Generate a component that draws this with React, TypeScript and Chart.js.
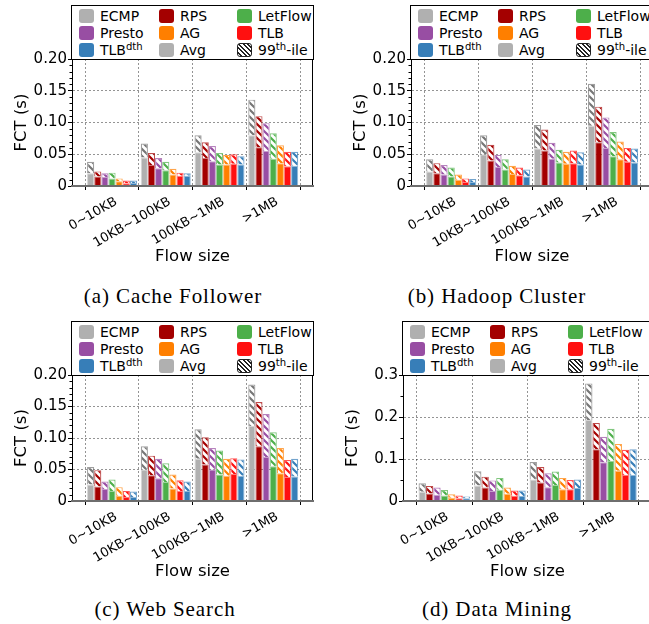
import { useEffect, useRef } from "react";
import { Chart, registerables } from "chart.js";

Chart.register(...registerables);

const SANS = "'DejaVu Sans', sans-serif";
const SERIF = "'Liberation Serif', serif";

Chart.defaults.font.family = SANS;
Chart.defaults.color = "#000";

// Flow-size buckets on the x axis
const sizeGroups = ["0~10KB", "10KB~100KB", "100KB~1MB", ">1MB"];

// Load-balancing schemes, in bar order inside each group
const schemes = ["ECMP", "RPS", "Presto", "LetFlow", "AG", "TLB", "TLBdth"];
const schemeColors = ["#b0b0b0", "#a40000", "#984ea3", "#4daf4a", "#ff7f00", "#ff1010", "#377eb8"];
const hatchColors = ["#767676", "#a40000", "#984ea3", "#4daf4a", "#ff7f00", "#ff1010", "#377eb8"];

// FCT in seconds; one row per scheme, one column per flow-size bucket
const cacheFollowerAvg = [
  [0.02, 0.045, 0.053, 0.08],
  [0.015, 0.033, 0.044, 0.061],
  [0.014, 0.028, 0.039, 0.055],
  [0.012, 0.025, 0.034, 0.043],
  [0.0075, 0.018, 0.034, 0.036],
  [0.0042, 0.016, 0.035, 0.031],
  [0.0047, 0.016, 0.034, 0.032],
];
const cacheFollowerP99 = [
  [0.038, 0.067, 0.08, 0.136],
  [0.023, 0.052, 0.069, 0.11],
  [0.02, 0.044, 0.063, 0.099],
  [0.021, 0.038, 0.052, 0.083],
  [0.012, 0.027, 0.049, 0.064],
  [0.0085, 0.021, 0.05, 0.054],
  [0.0085, 0.02, 0.047, 0.054],
];

const hadoopAvg = [
  [0.023, 0.05, 0.059, 0.095],
  [0.02, 0.04, 0.056, 0.069],
  [0.018, 0.03, 0.043, 0.06],
  [0.015, 0.026, 0.037, 0.047],
  [0.01, 0.019, 0.035, 0.042],
  [0.0063, 0.017, 0.036, 0.038],
  [0.0063, 0.015, 0.034, 0.037],
];
const hadoopP99 = [
  [0.042, 0.08, 0.096, 0.161],
  [0.036, 0.065, 0.089, 0.125],
  [0.033, 0.049, 0.068, 0.108],
  [0.029, 0.042, 0.057, 0.085],
  [0.018, 0.032, 0.054, 0.07],
  [0.012, 0.029, 0.056, 0.06],
  [0.011, 0.026, 0.053, 0.059],
];

const webSearchAvg = [
  [0.026, 0.05, 0.067, 0.119],
  [0.023, 0.041, 0.058, 0.087],
  [0.019, 0.036, 0.05, 0.07],
  [0.016, 0.03, 0.042, 0.055],
  [0.0085, 0.02, 0.04, 0.044],
  [0.0063, 0.016, 0.043, 0.038],
  [0.0063, 0.016, 0.04, 0.039],
];
const webSearchP99 = [
  [0.054, 0.087, 0.114, 0.185],
  [0.049, 0.072, 0.101, 0.157],
  [0.031, 0.067, 0.084, 0.138],
  [0.034, 0.06, 0.08, 0.109],
  [0.022, 0.042, 0.067, 0.084],
  [0.016, 0.033, 0.068, 0.065],
  [0.015, 0.031, 0.066, 0.067],
];

const dataMiningAvg = [
  [0.022, 0.037, 0.051, 0.193],
  [0.018, 0.032, 0.044, 0.123],
  [0.015, 0.024, 0.033, 0.092],
  [0.013, 0.027, 0.038, 0.095],
  [0.008, 0.017, 0.028, 0.072],
  [0.0063, 0.0126, 0.028, 0.062],
  [0.0063, 0.012, 0.031, 0.062],
];
const dataMiningP99 = [
  [0.042, 0.071, 0.093, 0.28],
  [0.036, 0.058, 0.081, 0.186],
  [0.032, 0.049, 0.066, 0.153],
  [0.026, 0.055, 0.07, 0.172],
  [0.016, 0.032, 0.055, 0.136],
  [0.013, 0.025, 0.05, 0.122],
  [0.011, 0.025, 0.051, 0.123],
];

const AXIS_W = 72;
const PAD_TOP = 10;
const PAD_RIGHT = 10;
const XAXIS_H = 90;

function withAlpha(hex: string, a: number): string {
  const n = parseInt(hex.slice(1), 16);
  return `rgba(${(n >> 16) & 255},${(n >> 8) & 255},${n & 255},${a})`;
}

function makeHatch(ctx: CanvasRenderingContext2D, color: string): CanvasPattern | string {
  const s = 7;
  const tile = document.createElement("canvas");
  tile.width = s;
  tile.height = s;
  const g = tile.getContext("2d");
  if (!g) return color;
  g.fillStyle = "#fff";
  g.fillRect(0, 0, s, s);
  g.strokeStyle = color;
  g.lineWidth = 2.2;
  g.beginPath();
  g.moveTo(-1, -1);
  g.lineTo(s + 1, s + 1);
  g.moveTo(s - 2, -2);
  g.lineTo(s + 2, 2);
  g.moveTo(-2, s - 2);
  g.lineTo(2, s + 2);
  g.stroke();
  return ctx.createPattern(tile, "repeat") ?? color;
}

// Closes the plot box on top/right and adds minor ticks on the y axis
const frameAndMinorTicks = {
  id: "frameAndMinorTicks",
  afterDatasetsDraw(chart: any, _args: any, opts: any) {
    const { ctx, chartArea } = chart;
    const { left, right, top, bottom } = chartArea;
    const y = chart.scales.y;
    ctx.save();
    ctx.strokeStyle = "#000";
    ctx.lineWidth = 1;
    ctx.beginPath();
    ctx.moveTo(left, Math.round(top) + 0.5);
    ctx.lineTo(right, Math.round(top) + 0.5);
    ctx.moveTo(Math.round(right) - 0.5, top);
    ctx.lineTo(Math.round(right) - 0.5, bottom);
    const step: number = opts.minor;
    const major: number = opts.major;
    for (let k = 1; k * step < y.max - 1e-9; k++) {
      const v = k * step;
      const r = v / major;
      if (Math.abs(r - Math.round(r)) < 1e-6) continue;
      const py = Math.round(y.getPixelForValue(v)) + 0.5;
      ctx.moveTo(left - 2.5, py);
      ctx.lineTo(left, py);
    }
    ctx.stroke();
    ctx.restore();
  },
};

type PanelProps = {
  left: number;
  top: number;
  width: number;
  height: number;
  avg: number[][];
  p99: number[][];
  yMax: number;
  yStep: number;
  yMinor: number;
  digits: number;
};

function BarPanel(p: PanelProps) {
  const ref = useRef<HTMLCanvasElement>(null);
  const cw = AXIS_W + p.width + PAD_RIGHT;
  const ch = PAD_TOP + p.height + XAXIS_H;

  useEffect(() => {
    const canvas = ref.current;
    if (!canvas) return;
    const ctx = canvas.getContext("2d");
    if (!ctx) return;

    const datasets: any[] = [];
    schemes.forEach((name, s) => {
      datasets.push({
        label: `${name} avg`,
        stack: name,
        data: p.avg[s].map((v, i) => ({ x: i + 0.5, y: v })),
        backgroundColor: schemeColors[s],
        borderColor: withAlpha(schemeColors[s], 0.55),
        borderWidth: 1,
        borderSkipped: "bottom",
      });
      datasets.push({
        label: `${name} 99th`,
        stack: name,
        data: p.p99[s].map((v, i) => ({ x: i + 0.5, y: [p.avg[s][i], v] })),
        backgroundColor: makeHatch(ctx, hatchColors[s]),
        borderColor: withAlpha(hatchColors[s], 0.7),
        borderWidth: 1.2,
        borderSkipped: "bottom",
      });
    });

    const gridColor = "rgba(0,0,0,0.42)";
    const chart = new Chart(canvas, {
      type: "bar",
      data: { datasets },
      plugins: [frameAndMinorTicks],
      options: {
        responsive: false,
        animation: false,
        events: [],
        layout: { padding: { top: PAD_TOP, right: PAD_RIGHT, left: 0, bottom: 0 } },
        datasets: { bar: { categoryPercentage: 0.93, barPercentage: 1 } },
        plugins: {
          legend: { display: false },
          tooltip: { enabled: false },
          frameAndMinorTicks: { minor: p.yMinor, major: p.yStep },
        } as any,
        scales: {
          x: {
            type: "linear",
            min: -0.245,
            max: 4.24,
            offset: false,
            afterBuildTicks: (s: any) => {
              s.ticks = [0, 1, 2, 3, 4].map((value) => ({ value }));
            },
            afterFit: (s: any) => {
              s.height = XAXIS_H;
            },
            ticks: {
              autoSkip: false,
              minRotation: 30,
              maxRotation: 30,
              labelOffset: 31,
              padding: 4,
              font: { size: 13 },
              color: "#000",
              callback: (v: any) => sizeGroups[Number(v)] ?? "",
            },
            grid: { offset: false, color: gridColor, lineWidth: 1, tickLength: 4, tickColor: "#000" },
            border: { color: "#6e6e6e", width: 2, dash: [2, 2], z: 1 },
            title: {
              display: true,
              text: "Flow size",
              color: "#000",
              font: { size: 16.5 },
              padding: { top: 0, bottom: 9 },
            },
          } as any,
          y: {
            min: 0,
            max: p.yMax,
            stacked: false,
            afterFit: (s: any) => {
              s.width = AXIS_W;
            },
            ticks: {
              stepSize: p.yStep,
              padding: 1,
              font: { size: 15 },
              color: "#000",
              callback: (v: any) => (Number(v) === 0 ? "0" : Number(v).toFixed(p.digits)),
            },
            grid: { color: gridColor, lineWidth: 1, tickLength: 4, tickColor: "#000" },
            border: { color: "#000", width: 1, dash: [2, 2] },
            title: {
              display: true,
              text: "FCT (s)",
              color: "#000",
              font: { size: 16.5 },
              padding: { top: 12, bottom: 0 },
            },
          } as any,
        },
      },
    });
    return () => chart.destroy();
  }, []);

  return (
    <canvas
      ref={ref}
      width={cw}
      height={ch}
      style={{ position: "absolute", left: p.left - AXIS_W, top: p.top - PAD_TOP, width: cw, height: ch }}
    />
  );
}

type LegendItem = { text: string; sup?: string; tail?: string; color?: string; hatch?: boolean };

const legendColumns: LegendItem[][] = [
  [
    { text: "ECMP", color: schemeColors[0] },
    { text: "Presto", color: schemeColors[2] },
    { text: "TLB", sup: "dth", color: schemeColors[6] },
  ],
  [
    { text: "RPS", color: schemeColors[1] },
    { text: "AG", color: schemeColors[4] },
    { text: "Avg", color: "#b0b0b0" },
  ],
  [
    { text: "LetFlow", color: schemeColors[3] },
    { text: "TLB", color: schemeColors[5] },
    { text: "99", sup: "th", tail: "-ile", hatch: true },
  ],
];

const swatchX = [7, 87, 165];
const labelX = [28, 108, 186];
const rowY = [10, 27, 44];

function LegendBox({ left, top, width, bottom }: { left: number; top: number; width: number; bottom: number }) {
  return (
    <div
      style={{
        position: "absolute",
        left,
        top,
        width,
        height: bottom - top + 1,
        boxSizing: "border-box",
        border: "1px solid #000",
        background: "#fff",
        fontFamily: SANS,
        fontSize: 14,
        color: "#000",
      }}
    >
      {legendColumns.map((col, c) =>
        col.map((item, r) => (
          <div key={`${c}-${r}`}>
            <div
              style={{
                position: "absolute",
                left: swatchX[c],
                top: rowY[r] - 7,
                width: 15,
                height: 14,
                borderRadius: 3,
                boxSizing: "border-box",
                background: item.hatch
                  ? "repeating-linear-gradient(45deg, #fff 0px, #fff 2px, #222 2px, #222 3.2px)"
                  : item.color,
                border: item.hatch ? "1px solid #222" : `1px solid ${withAlpha(item.color as string, 0.6)}`,
              }}
            />
            <div
              style={{
                position: "absolute",
                left: labelX[c],
                top: rowY[r] - 9,
                height: 18,
                lineHeight: "18px",
                whiteSpace: "nowrap",
              }}
            >
              {item.text}
              {item.sup ? (
                <span style={{ fontSize: "0.72em", position: "relative", top: "-0.45em" }}>{item.sup}</span>
              ) : null}
              {item.tail ?? null}
            </div>
          </div>
        ))
      )}
    </div>
  );
}

function Caption({ text, cx, cy }: { text: string; cx: number; cy: number }) {
  return (
    <div
      style={{
        position: "absolute",
        left: cx - 150,
        width: 300,
        top: cy - 12,
        height: 24,
        lineHeight: "24px",
        textAlign: "center",
        fontFamily: SERIF,
        fontSize: 21,
        letterSpacing: 0.9,
        color: "#000",
      }}
    >
      {text}
    </div>
  );
}

export default function App() {
  return (
    <div
      style={{
        position: "absolute",
        left: 0,
        top: 0,
        width: 649,
        height: 624,
        overflow: "hidden",
        background: "#fff",
      }}
    >
      <LegendBox left={71} top={5} width={243} bottom={59} />
      <BarPanel left={72} top={59} width={241} height={127} avg={cacheFollowerAvg} p99={cacheFollowerP99} yMax={0.2} yStep={0.05} yMinor={0.01} digits={2} />
      <Caption text="(a) Cache Follower" cx={173} cy={296} />

      <LegendBox left={410} top={5} width={244} bottom={59} />
      <BarPanel left={411} top={59} width={242} height={127} avg={hadoopAvg} p99={hadoopP99} yMax={0.2} yStep={0.05} yMinor={0.01} digits={2} />
      <Caption text="(b) Hadoop Cluster" cx={497} cy={296} />

      <LegendBox left={71} top={321} width={243} bottom={375} />
      <BarPanel left={72} top={375} width={241} height={126} avg={webSearchAvg} p99={webSearchP99} yMax={0.2} yStep={0.05} yMinor={0.01} digits={2} />
      <Caption text="(c) Web Search" cx={165} cy={609} />

      <LegendBox left={402} top={321} width={251} bottom={375} />
      <BarPanel left={403} top={375} width={249} height={126} avg={dataMiningAvg} p99={dataMiningP99} yMax={0.3} yStep={0.1} yMinor={0.05} digits={1} />
      <Caption text="(d) Data Mining" cx={497} cy={609} />
    </div>
  );
}
